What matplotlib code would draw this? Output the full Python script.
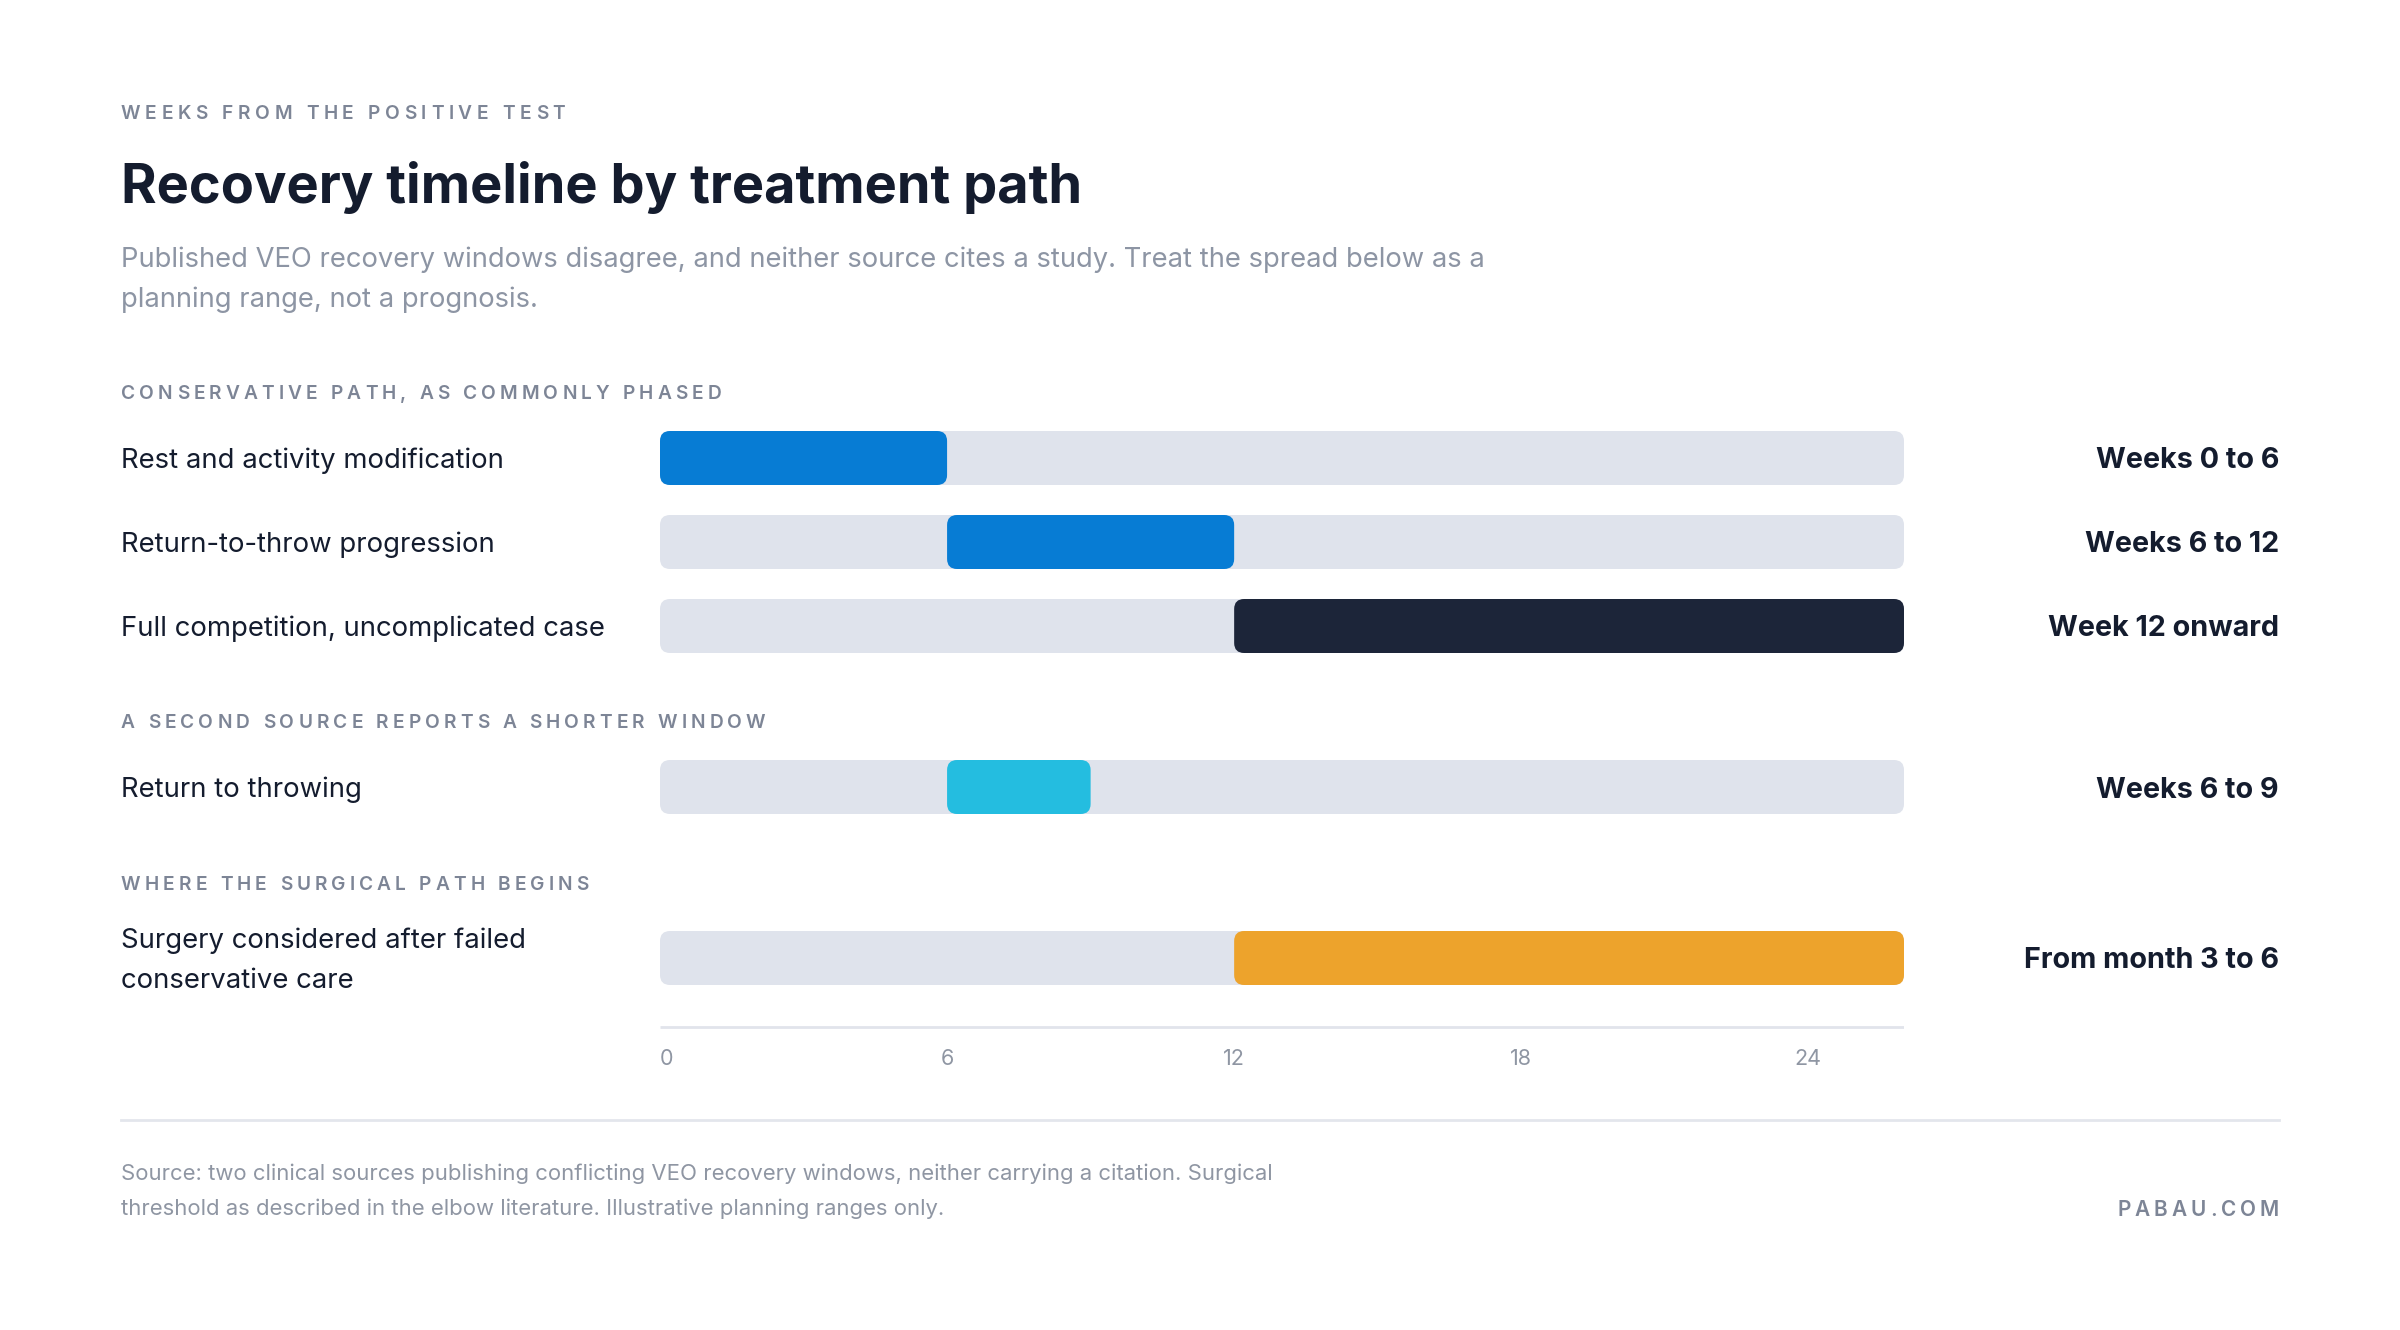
import numpy as np
import matplotlib
matplotlib.use("Agg")
import matplotlib.pyplot as plt
from matplotlib.patches import FancyBboxPatch

# ---- data ----
row_labels = ["Rest and activity modification",
              "Return-to-throw progression",
              "Full competition, uncomplicated case",
              "Return to throwing",
              "Surgery considered after failed\nconservative care"]
week_start = [0, 6, 12, 6, 12]
week_end = [6, 12, 26, 9, 26]
range_text = ["Weeks 0 to 6", "Weeks 6 to 12", "Week 12 onward",
              "Weeks 6 to 9", "From month 3 to 6"]
section_titles = ["CONSERVATIVE PATH, AS COMMONLY PHASED",
                  "A SECOND SOURCE REPORTS A SHORTER WINDOW",
                  "WHERE THE SURGICAL PATH BEGINS"]
tick_weeks = [0, 6, 12, 18, 24]
axis_max = 26

# ---- layout / style (pixels, top-down) ----
W, H = 2400, 1330
row_y = [458, 542, 626, 787, 958]
section_y = [392, 721, 883]
bar_h = 54
left_x, right_x = 121, 2279
track_x0, track_x1 = 660, 1904

bar_colors = ["#077cd4", "#077cd4", "#1c2539", "#24bde0", "#eda32c"]
track_color = "#dfe3ec"
navy = "#141c2e"
gray = "#7d8596"
light = "#8f96a3"

plt.rcParams["font.family"] = ["Inter", "DejaVu Sans"]

fig = plt.figure(figsize=(W / 100, H / 100), dpi=100)
fig.patch.set_facecolor("white")

# overlay axes in pixel units for the text layout
lay = fig.add_axes([0, 0, 1, 1])
lay.set_xlim(0, W)
lay.set_ylim(H, 0)
lay.axis("off")

# bar axes: x in weeks, y in pixels
ax = fig.add_axes([track_x0 / W, 0, (track_x1 - track_x0) / W, 1])
ax.set_xlim(0, axis_max)
ax.set_ylim(H, 0)
ax.axis("off")

renderer = fig.canvas.get_renderer()


def text_width(s, **kw):
    t = lay.text(0, 0, s, **kw)
    w = t.get_window_extent(renderer).width
    t.remove()
    return w


def spaced(x, y, s, spacing, ha="left", **kw):
    # letter-spaced caps, one glyph at a time
    space_w = text_width("x x", **kw) - text_width("xx", **kw)
    widths = [space_w if c == " " else text_width(c, **kw) for c in s]
    total = sum(widths) + spacing * (len(s) - 1)
    if ha == "right":
        x = x - total
    for c, w in zip(s, widths):
        if c != " ":
            lay.text(x, y, c, ha="left", va="center", **kw)
        x += w + spacing


cap_kw = dict(fontsize=13.8, fontweight="semibold", color=gray)

# header
spaced(left_x, 114, "WEEKS FROM THE POSITIVE TEST", 4.6, **cap_kw)
lay.text(left_x, 188, "Recovery timeline by treatment path", fontsize=39,
         fontweight="bold", color=navy, va="center")
lay.text(left_x, 280, "Published VEO recovery windows disagree, and neither source cites a study. "
         "Treat the spread below as a\nplanning range, not a prognosis.",
         fontsize=19.7, color="#8d95a4", va="center", linespacing=1.68)

for sy, st in zip(section_y, section_titles):
    spaced(left_x, sy + 2, st, 4.1, **cap_kw)

# bars
px_per_week = (track_x1 - track_x0) / axis_max
rad = 10 / px_per_week
for i, lab in enumerate(row_labels):
    y = row_y[i]
    track = FancyBboxPatch((rad, y - bar_h / 2 + rad * px_per_week),
                           axis_max - 2 * rad, bar_h - 2 * rad * px_per_week,
                           boxstyle=f"round,pad={rad},rounding_size={rad}",
                           mutation_aspect=px_per_week,
                           fc=track_color, ec="none")
    ax.add_patch(track)
    s, e = week_start[i], week_end[i]
    seg = FancyBboxPatch((s + rad, y - bar_h / 2 + rad * px_per_week),
                         (e - s) - 2 * rad, bar_h - 2 * rad * px_per_week,
                         boxstyle=f"round,pad={rad},rounding_size={rad}",
                         mutation_aspect=px_per_week,
                         fc=bar_colors[i], ec="none")
    ax.add_patch(seg)
    lay.text(left_x, y + 3, lab, fontsize=19.8, color=navy, va="center", linespacing=1.68)
    lay.text(right_x, y + 3, range_text[i], fontsize=20.7, fontweight="bold",
             color=navy, va="center", ha="right")

# axis line + tick labels
ax.plot([0, axis_max], [1027, 1027], color="#e1e4eb", lw=2, solid_capstyle="butt")
for t in tick_weeks:
    ax.text(t, 1059, str(t), fontsize=15.5, color=light, va="center",
            ha="left" if t == 0 else "center")

# footer
lay.plot([left_x, right_x], [1120, 1120], color="#e3e6ec", lw=2)
lay.text(left_x, 1191, "Source: two clinical sources publishing conflicting VEO recovery windows, "
         "neither carrying a citation. Surgical\nthreshold as described in the elbow literature. "
         "Illustrative planning ranges only.",
         fontsize=15.9, color=light, va="center", linespacing=1.9)
spaced(right_x, 1210, "PABAU.COM", 4.0, ha="right", fontsize=15,
       fontweight="semibold", color=gray)

fig.savefig("out.png", dpi=100, facecolor="white")
